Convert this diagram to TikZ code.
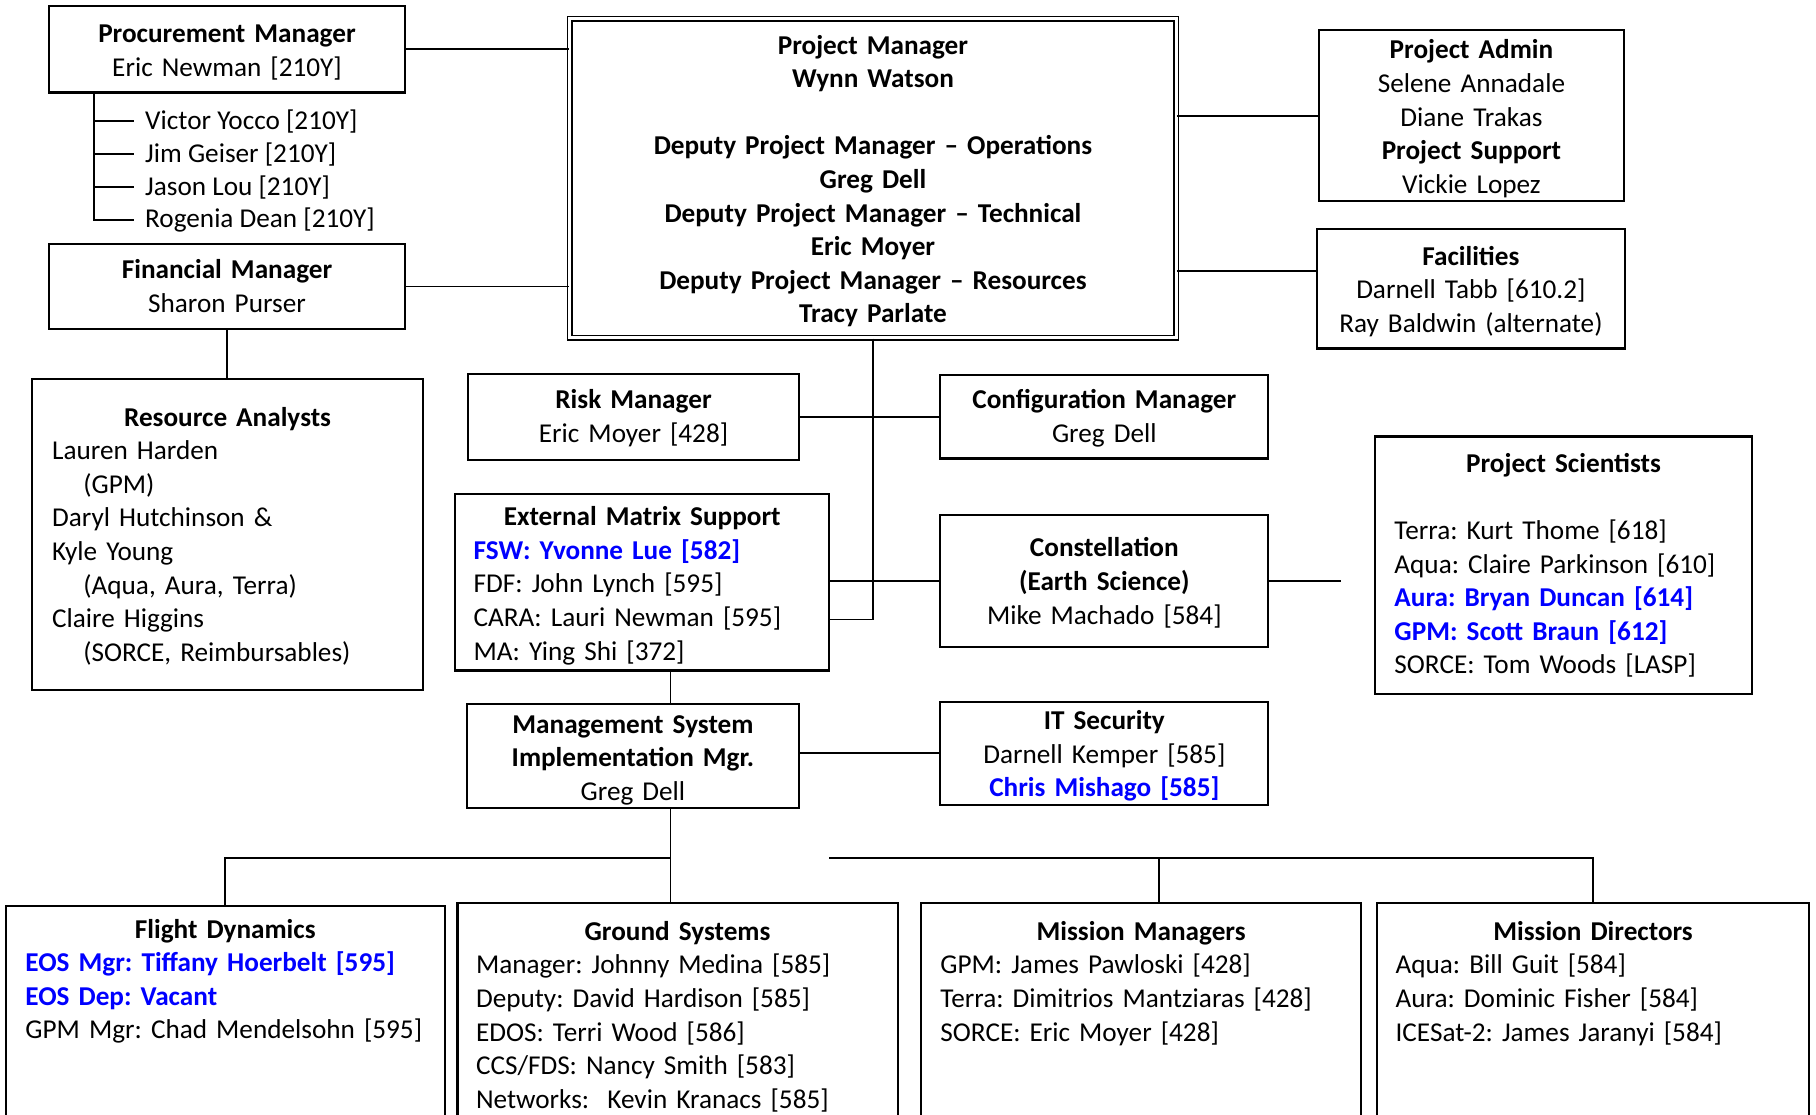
\documentclass[tikz,border=0pt]{standalone}
\usepackage{fontspec}
\setmainfont{Carlito}
\usepackage{tikz}
\usepackage{xcolor}

\definecolor{nasablue}{RGB}{0,0,255}
\newcommand{\orgfont}{\fontsize{11.75}{14.5}\selectfont\frenchspacing}
\newcommand{\boxtitle}[1]{\makebox[\linewidth]{\textbf{#1}}}
\newcommand{\bluebold}[1]{\textcolor{nasablue}{\textbf{#1}}}

\tikzset{
  orgbox/.style={draw,line width=0.9pt,anchor=north,inner ysep=0pt,inner xsep=8pt,font=\orgfont},
  pmbox/.style={orgbox,double,line width=0.7pt,double distance=1.3pt},
  link/.style={line width=0.75pt},
  subitem/.style={anchor=west,inner xsep=4.5pt,inner ysep=1pt,font=\orgfont}
}

\begin{document}
\begin{tikzpicture}[x=0.5pt,y=-0.5pt,line cap=butt]
\useasboundingbox (0,0) rectangle (1568,962);
\clip (0,0) rectangle (1568,962);

% top row
\node[orgbox,text width=138pt,align=center,text height=16pt,text depth=21.5pt] (proc) at (196,4)
  {\textbf{Procurement Manager}\\Eric Newman [210Y]};
\node[orgbox,text width=138pt,align=center,text height=15pt,text depth=21.5pt] (fin) at (196,210)
  {\textbf{Financial Manager}\\Sharon Purser};
\node[pmbox,text width=245.75pt,align=center,text height=15.25pt,text depth=122.5pt,font=\orgfont\bfseries] (pm) at (753.75,15.5)
  {Project Manager\\Wynn Watson\\[\baselineskip]Deputy Project Manager -- Operations\\Greg Dell\\Deputy Project Manager -- Technical\\Eric Moyer\\Deputy Project Manager -- Resources\\Tracy Parlate};
\node[orgbox,text width=115.5pt,align=center,text height=12.5pt,text depth=61.5pt] (admin) at (1270.5,25)
  {\textbf{Project Admin}\\Selene Annadale\\Diane Trakas\\\textbf{Project Support}\\Vickie Lopez};
\node[orgbox,inner xsep=6pt,text width=121pt,align=center,text height=15.5pt,text depth=36pt] (fac) at (1270,197)
  {\textbf{Facilities}\\Darnell Tabb [610.2]\\Ray Baldwin (alternate)};

% procurement staff
\node[subitem] (v1) at (116,104.5) {Victor Yocco [210Y]};
\node[subitem] (v2) at (116,133) {Jim Geiser [210Y]};
\node[subitem] (v3) at (116,161.5) {Jason Lou [210Y]};
\node[subitem] (v4) at (116,190) {Rogenia Dean [210Y]};
\coordinate (ptrunk) at (81,79);
\draw[link] (ptrunk) |- (v4.west);
\foreach \n in {v1,v2,v3}
  \draw[link] (ptrunk |- \n.west) -- (\n.west);

% middle
\node[orgbox,inner xsep=8.5pt,text width=151.5pt,align=left,text height=20.25pt,text depth=113.75pt] (res) at (196.5,326.5)
  {\boxtitle{Resource Analysts}\\Lauren Harden\\\hspace*{13.5pt}(GPM)\\Daryl Hutchinson \&\\Kyle Young\\\hspace*{13.5pt}(Aqua, Aura, Terra)\\Claire Higgins\\\hspace*{13.5pt}(SORCE, Reimbursables)};
\node[orgbox,text width=127pt,align=center,text height=15pt,text depth=22pt] (risk) at (547,322)
  {\textbf{Risk Manager}\\Eric Moyer [428]};
\node[orgbox,text width=125.5pt,align=center,text height=14.5pt,text depth=21.5pt] (cfg) at (953.5,323)
  {\textbf{Configuration Manager}\\Greg Dell};
\node[orgbox,text width=145.5pt,align=left,text height=13.5pt,text depth=62.5pt] (ext) at (554.5,426)
  {\boxtitle{External Matrix Support}\\\bluebold{FSW: Yvonne Lue [582]}\\FDF: John Lynch [595]\\CARA: Lauri Newman [595]\\MA: Ying Shi [372]};
\node[orgbox,text width=125.5pt,align=center,text height=18pt,text depth=39pt] (con) at (953.5,444)
  {\textbf{Constellation}\\\textbf{(Earth Science)}\\Mike Machado [584]};
\node[orgbox,inner xsep=8.5pt,text width=146pt,align=left,text height=15.5pt,text depth=95.5pt] (sci) at (1350,376)
  {\boxtitle{Project Scientists}\\[\baselineskip]Terra: Kurt Thome [618]\\Aqua: Claire Parkinson [610]\\\bluebold{Aura: Bryan Duncan [614]}\\\bluebold{GPM: Scott Braun [612]}\\SORCE: Tom Woods [LASP]};
\node[orgbox,text width=127.5pt,align=center,text height=12.5pt,text depth=32.5pt] (msim) at (546.5,607)
  {\textbf{Management System}\\\textbf{Implementation Mgr.}\\Greg Dell};
\node[orgbox,text width=125.5pt,align=center,text height=12pt,text depth=32.5pt] (its) at (953.5,605)
  {\textbf{IT Security}\\Darnell Kemper [585]\\\bluebold{Chris Mishago [585]}};

% bottom row
\node[orgbox,inner xsep=8.5pt,text width=172.5pt,align=left,text height=14pt,text depth=100pt] (fd) at (194.5,781)
  {\boxtitle{Flight Dynamics}\\\bluebold{EOS Mgr: Tiffany Hoerbelt [595]}\\\bluebold{EOS Dep: Vacant}\\GPM Mgr: Chad Mendelsohn [595]};
\node[orgbox,text width=174pt,align=left,text height=16pt,text depth=100pt] (gs) at (585,779)
  {\boxtitle{Ground Systems}\\Manager: Johnny Medina [585]\\Deputy: David Hardison [585]\\EDOS: Terri Wood [586]\\CCS/FDS: Nancy Smith [583]\\Networks:\ \ Kevin Kranacs [585]};
\node[orgbox,inner xsep=8.5pt,text width=173.25pt,align=left,text height=16pt,text depth=100pt] (mm) at (985.25,779)
  {\boxtitle{Mission Managers}\\GPM: James Pawloski [428]\\Terra: Dimitrios Mantziaras [428]\\SORCE: Eric Moyer [428]};
\node[orgbox,text width=170.5pt,align=left,text height=16pt,text depth=100pt] (md) at (1375.5,779)
  {\boxtitle{Mission Directors}\\Aqua: Bill Guit [584]\\Aura: Dominic Fisher [584]\\ICESat-2: James Jaranyi [584]};

% connectors
\draw[link] (proc.east) -- (proc.east -| pm.west);
\draw[link] (fin.east) -- (fin.east -| pm.west);
\draw[link] (admin.west -| pm.east) -- (admin.west);
\draw[link] (pm.east |- 0,234) -- (fac.west |- 0,234);
\draw[link] (fin.south) -- (fin.south |- res.north);
\draw[link] (risk.east) -- (cfg.west);
\draw[link] (pm.south) |- (ext.east |- 0,535);
\draw[link] (con.west) -- (con.west -| ext.east);
\coordinate (sciend) at (con.east -| 1158,0);
\draw[link] (con.east) -- (sciend);
\draw[link] (ext.south -| 579,0) -- (msim.north -| 579,0);
\draw[link] (its.west -| msim.east) -- (its.west);
\coordinate (hubl) at (579,741);
\draw[link] (msim.south -| hubl) -- (gs.north -| hubl);
\draw[link] (fd.north) |- (hubl);
\coordinate (hubr) at (716,741);
\draw[link] (hubr) -| (md.north);
\coordinate (mmdrop) at (1000.6,741);
\draw[link] (mmdrop) -- (mmdrop |- mm.north);
\end{tikzpicture}
\end{document}
